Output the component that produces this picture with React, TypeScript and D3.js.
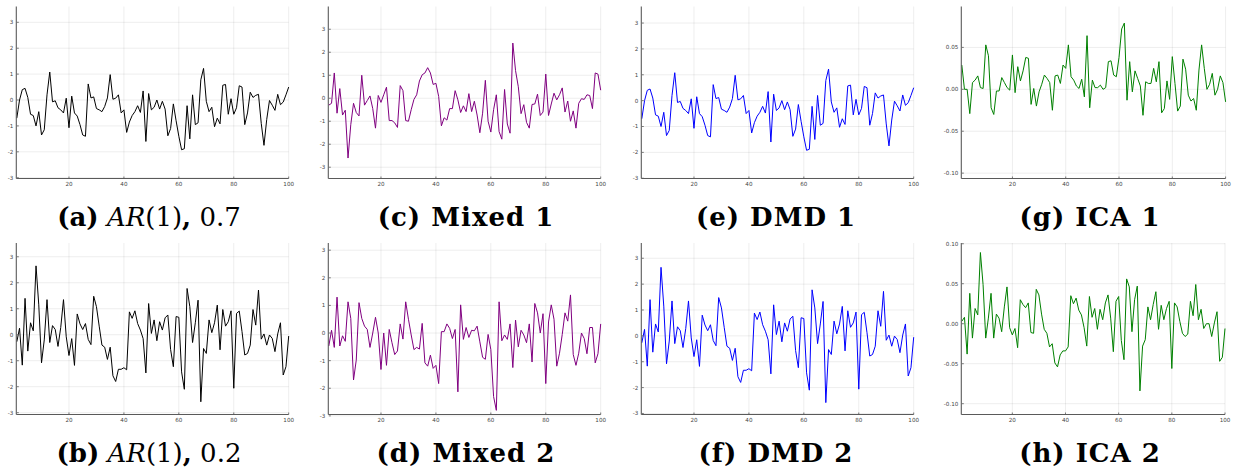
import React from 'react';
import * as d3 from 'd3';

const xValues = d3.range(1, 101);
const xTicks = [20, 40, 60, 80, 100];
const unitTicks = [-3, -2, -1, 0, 1, 2, 3];
const icaTicks1 = [-0.1, -0.05, 0, 0.05];
const icaTicks2 = [-0.1, -0.05, 0, 0.05, 0.1];

const ar07 = [
  -0.7, 0.0, 0.4, 0.45, 0.1, -0.55, -0.6, -1.0, -0.45, -1.35,
  -1.15, 0.2, 1.08, -0.07, -0.03, -0.3, -0.38, -0.5, 0.07, -1.07,
  0.15, -0.5, -0.62, -0.95, -1.35, -1.4, 0.62, 0.08, 0.12, -0.33,
  -0.38, -0.45, -0.25, 0.08, 0.98, 0.03, 0.07, 0.2, -0.5, -0.38,
  -1.25, -0.85, -0.6, -0.45, -0.22, -0.48, 0.35, -1.6, 0.25, -0.38,
  -0.28, 0.0, -0.35, -0.05, -0.35, -1.38, -1.1, -0.15, -0.8, -1.4,
  -1.92, -1.88, -0.22, -1.5, 0.2, -0.95, -0.88, 0.78, 1.22, -0.05,
  -0.45, -0.28, -1.03, -0.7, -0.92, 0.57, 0.6, -0.55, 0.05, -0.55,
  -0.3, 0.55, 0.5, -0.95, -0.5, 0.3, 0.1, 0.18, 0.22, -0.9,
  -1.75, -0.75, -0.02, -0.2, -0.4, 0.22, -0.18, -0.08, 0.2, 0.5,
];

const ar02 = [
  -0.27, 0.25, -1.17, 1.4, -0.63, 0.46, 0.15, 2.65, 1.15, -1.08,
  -0.2, 1.35, -0.3, 0.35, 0.2, -0.45, 0.28, 1.35, -0.08, -0.8,
  -0.15, -1.18, 0.8, 0.42, 0.2, 0.43, -0.18, -0.38, 1.48, 1.08,
  0.33, -0.4, -0.48, -0.95, -0.48, -1.58, -1.8, -1.33, -1.33, -1.27,
  -1.35, 0.88, 0.63, 0.92, 0.43, 0.18, -0.15, -1.47, 1.2, 0.05,
  0.57, -0.23, 0.5, 0.18, 0.65, 0.76, -0.57, -1.23, 0.7, 0.67,
  -1.43, -2.1, 1.78, 1.08, -0.3, 0.46, 1.33, -2.58, -0.53, -0.72,
  0.57, 0.08, 0.46, 1.14, -0.58, 0.97, 0.33, 0.5, 0.92, -2.06,
  0.82, 0.91, 0.12, -0.78, -0.72, -0.4, 0.97, 0.37, 1.72, -0.17,
  0.03, -0.4, -0.01, -0.14, -0.65, 0.03, 0.46, -1.55, -1.23, -0.05,
];

const mixed1 = [
  -0.3, -0.22, 1.1, -0.65, 0.42, -0.73, -0.52, -2.6, -1.15, -0.22,
  -0.62, -0.77, 1.0, -0.3, -0.1, 0.1, -0.45, -1.3, 0.12, -0.18,
  0.15, 0.48, -0.97, -0.97, -1.07, -1.27, 0.55, 0.33, -0.97, -1.0,
  -0.5, -0.05, 0.15, 0.75, 1.02, 1.1, 1.33, 1.1, 0.6, 0.65,
  0.08, -1.2, -0.85, -0.95, -0.45, -0.45, 0.33, -0.07, -0.62, -0.33,
  -0.58, 0.2, -0.58, -0.13, -0.73, -1.5, -0.65, 0.78, -1.0, -1.47,
  -0.5, 0.15, -1.45, -1.78, 0.38, -1.12, -1.52, 2.4, 1.2, 0.5,
  -0.67, -0.28, -1.05, -1.3, -0.27, -0.25, 0.18, -0.75, -0.6, 1.05,
  -0.75, -0.25, 0.22, -0.07, 0.15, 0.45, -0.6, -0.12, -1.0, -0.55,
  -1.3, -0.22, -0.02, -0.05, 0.15, 0.12, -0.45, 1.1, 1.05, 0.35,
];

const mixed2 = [
  -0.47, 0.1, -0.52, 1.3, -0.47, -0.1, -0.3, 1.13, 0.53, -1.7,
  -0.98, 1.1, 0.53, 0.25, 0.13, -0.52, 0.0, 0.57, 0.0, -1.32,
  0.0, -1.17, 0.13, -0.35, -0.78, -0.65, 0.33, -0.22, 1.13, 0.5,
  -0.07, -0.6, -0.52, -0.58, 0.35, -1.08, -1.2, -0.8, -1.28, -1.17,
  -1.83, 0.05, 0.05, 0.33, 0.17, -0.2, 0.13, -2.13, 1.02, -0.23,
  0.2, -0.16, 0.1, 0.08, 0.25, -0.32, -0.88, -0.95, -0.05, -0.6,
  -2.3, -2.8, 1.13, -0.28, -0.07, -0.23, 0.33, -1.25, 0.47, -0.5,
  0.1, -0.07, -0.35, 0.33, -1.05, 1.07, 0.73, 0.0, 0.7, -1.83,
  0.4, 1.02, 0.5, -1.2, -0.73, -0.05, 0.73, 0.43, 1.38, -0.78,
  -1.17, -0.73, 0.0, -0.2, -0.75, 0.2, 0.2, -1.08, -0.75, 0.33,
];

const ica1 = [
  0.029, 0.0, 0.0, -0.029, 0.008, 0.011, 0.016, 0.002, 0.001, 0.053,
  0.04, -0.022, -0.03, -0.002, -0.002, 0.014, 0.008, 0.002, -0.001, 0.041,
  -0.004, 0.027, 0.01, 0.022, 0.038, 0.037, -0.018, 0.001, -0.02, -0.003,
  0.006, 0.017, 0.013, 0.008, -0.025, 0.016, 0.017, 0.007, 0.029, 0.025,
  0.053, 0.015, 0.011, 0.004, 0.001, 0.012, -0.009, 0.064, -0.022, 0.011,
  0.002, 0.002, 0.005, 0.0, 0.002, 0.033, 0.034, 0.017, 0.015, 0.038,
  0.072, 0.079, -0.013, 0.033, -0.003, 0.022, 0.013, 0.004, -0.031, 0.009,
  0.007, 0.007, 0.025, 0.009, 0.033, -0.028, -0.023, 0.01, -0.012, 0.039,
  0.007, -0.026, -0.02, 0.036, 0.024, -0.007, -0.014, -0.011, -0.025, 0.023,
  0.053, 0.025, 0.0, 0.006, 0.019, -0.007, 0.0, 0.016, 0.008, -0.015,
];

const ica2 = [
  0.003, 0.008, -0.038, 0.038, -0.018, 0.019, 0.011, 0.089, 0.049, -0.018,
  0.007, 0.038, -0.018, 0.012, 0.007, -0.01, 0.021, 0.046, -0.005, -0.014,
  -0.006, -0.03, 0.03, 0.024, 0.02, 0.026, -0.011, -0.012, 0.043, 0.036,
  0.012, -0.007, -0.012, -0.029, -0.025, -0.049, -0.054, -0.039, -0.034, -0.034,
  -0.029, 0.035, 0.025, 0.032, 0.017, 0.011, -0.005, -0.028, 0.034, 0.008,
  0.019, -0.007, 0.018, 0.005, 0.026, 0.036, 0.007, -0.035, 0.028, 0.034,
  -0.021, -0.045, 0.056, 0.046, -0.01, 0.03, 0.047, -0.084, -0.028, -0.02,
  0.021, 0.005, 0.024, 0.04, -0.007, 0.023, 0.005, 0.019, 0.028, -0.056,
  0.026, 0.021, 0.003, -0.012, -0.016, -0.013, 0.028, 0.01, 0.049, 0.005,
  0.018, -0.006, 0.0, 0.0, -0.016, 0.001, 0.015, -0.047, -0.042, -0.006,
];

// DMD components coincide with the AR(1) sources
const dmd1 = ar07;
const dmd2 = ar02;

type Cap = { text: string; bold?: boolean; italic?: boolean }[];

const capA: Cap = [
  { text: '(a)', bold: true }, { text: ' ' }, { text: 'AR', italic: true },
  { text: '(1)' }, { text: ',', bold: true }, { text: ' 0.7' },
];
const capB: Cap = [
  { text: '(b)', bold: true }, { text: ' ' }, { text: 'AR', italic: true },
  { text: '(1)' }, { text: ',', bold: true }, { text: ' 0.2' },
];
const capC: Cap = [{ text: '(c) Mixed 1', bold: true }];
const capD: Cap = [{ text: '(d) Mixed 2', bold: true }];
const capE: Cap = [{ text: '(e) DMD 1', bold: true }];
const capF: Cap = [{ text: '(f) DMD 2', bold: true }];
const capG: Cap = [{ text: '(g) ICA 1', bold: true }];
const capH: Cap = [{ text: '(h) ICA 2', bold: true }];

const fmtInt = (v: number) => String(v);
const fmt2 = (v: number) => v.toFixed(2);

type Panel = {
  data: number[]; color: string; x0: number; x1: number; top: number; bottom: number;
  yDomain: [number, number]; yTicks: number[]; fmt: (v: number) => string;
  caption: Cap; capX: number; capY: number; capSpacing: number;
};

const panels: Panel[] = [
  { data: ar07, color: '#000000', x0: 16.8, x1: 288.7, top: 6.5, bottom: 178.5, yDomain: [-3.03, 3.61], yTicks: unitTicks, fmt: fmtInt, caption: capA, capX: 149, capY: 225.7, capSpacing: 0 },
  { data: mixed1, color: '#800080', x0: 328.8, x1: 600.7, top: 6.5, bottom: 178.5, yDomain: [-3.49, 3.99], yTicks: unitTicks, fmt: fmtInt, caption: capC, capX: 466, capY: 225.7, capSpacing: 1 },
  { data: dmd1, color: '#0000ff', x0: 641.8, x1: 913.7, top: 6.5, bottom: 178.5, yDomain: [-3.01, 3.64], yTicks: unitTicks, fmt: fmtInt, caption: capE, capX: 776, capY: 225.7, capSpacing: 1 },
  { data: ica1, color: '#008000', x0: 961.8, x1: 1225.6, top: 6.5, bottom: 178.5, yDomain: [-0.1064, 0.0988], yTicks: icaTicks1, fmt: fmt2, caption: capG, capX: 1090, capY: 225.7, capSpacing: 1 },
  { data: ar02, color: '#000000', x0: 16.8, x1: 288.7, top: 243, bottom: 414.5, yDomain: [-3.07, 3.53], yTicks: unitTicks, fmt: fmtInt, caption: capB, capX: 149, capY: 461.7, capSpacing: 0 },
  { data: mixed2, color: '#800080', x0: 328.8, x1: 600.7, top: 243, bottom: 414.5, yDomain: [-2.95, 3.26], yTicks: unitTicks, fmt: fmtInt, caption: capD, capX: 466, capY: 461.7, capSpacing: 1 },
  { data: dmd2, color: '#0000ff', x0: 641.8, x1: 913.7, top: 243, bottom: 414.5, yDomain: [-3.04, 3.59], yTicks: unitTicks, fmt: fmtInt, caption: capF, capX: 776, capY: 461.7, capSpacing: 1 },
  { data: ica2, color: '#008000', x0: 961.8, x1: 1225.0, top: 243, bottom: 414.5, yDomain: [-0.1135, 0.1009], yTicks: icaTicks2, fmt: fmt2, caption: capH, capX: 1090, capY: 461.7, capSpacing: 1 },
];

function PanelView({ p }: { p: Panel }) {
  const x = d3.scaleLinear().domain([1, 100]).range([p.x0, p.x1]);
  const y = d3.scaleLinear().domain(p.yDomain).range([p.bottom, p.top]);
  const line = d3.line<number>().x((_, i) => x(xValues[i])).y((d) => y(d));
  const axisColor = '#5a5a5a';
  const tickFont = 'DejaVu Sans, sans-serif';
  return (
    <g>
      {p.yTicks.map((t) => (
        <line key={'gy' + t} x1={p.x0} x2={p.x1} y1={y(t)} y2={y(t)} stroke="#000" strokeOpacity={0.09} strokeWidth={0.8} />
      ))}
      {xTicks.map((t) => (
        <line key={'gx' + t} x1={x(t)} x2={x(t)} y1={p.top} y2={p.bottom} stroke="#000" strokeOpacity={0.09} strokeWidth={0.8} />
      ))}
      <path d={line(p.data) || ''} fill="none" stroke={p.color} strokeWidth={1} strokeLinejoin="round" />
      <line x1={p.x0 - 0.5} x2={p.x0 - 0.5} y1={p.top} y2={p.bottom} stroke={axisColor} strokeWidth={1.1} />
      <line x1={p.x0 - 0.5} x2={p.x1} y1={p.bottom} y2={p.bottom} stroke={axisColor} strokeWidth={1.1} />
      {p.yTicks.map((t) => (
        <g key={'ty' + t}>
          <line x1={p.x0} x2={p.x0 + 2} y1={y(t)} y2={y(t)} stroke={axisColor} strokeWidth={0.8} />
          <text x={p.x0 - 3.5} y={y(t)} dy="0.35em" textAnchor="end" fontFamily={tickFont} fontSize={5.6} fill="#444">{p.fmt(t)}</text>
        </g>
      ))}
      {xTicks.map((t) => (
        <g key={'tx' + t}>
          <line x1={x(t)} x2={x(t)} y1={p.bottom} y2={p.bottom - 2} stroke={axisColor} strokeWidth={0.8} />
          <text x={x(t)} y={p.bottom + 7} textAnchor="middle" fontFamily={tickFont} fontSize={5.6} fill="#444">{fmtInt(t)}</text>
        </g>
      ))}
      <text x={p.capX} y={p.capY} textAnchor="middle" fontFamily="'DejaVu Serif', serif" fontSize={26} letterSpacing={p.capSpacing} fill="#000" style={{ whiteSpace: 'pre' }}>
        {p.caption.map((s, i) => (
          <tspan key={i} fontWeight={s.bold ? 'bold' : 'normal'} fontStyle={s.italic ? 'italic' : 'normal'}>{s.text}</tspan>
        ))}
      </text>
    </g>
  );
}

export default function App() {
  return (
    <svg width={1233} height={472} viewBox="0 0 1233 472" style={{ position: 'absolute', left: 0, top: 0, background: '#fff' }}>
      <rect x={0} y={0} width={1233} height={472} fill="#fff" />
      {panels.map((p, i) => (
        <PanelView key={i} p={p} />
      ))}
    </svg>
  );
}
